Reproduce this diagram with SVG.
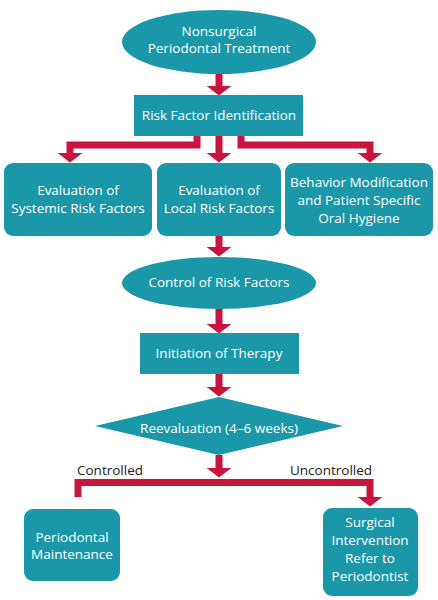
<svg xmlns="http://www.w3.org/2000/svg" width="438" height="600" viewBox="0 0 438 600">
<style>
.n{fill:#1a98a9}
.t{fill:#fff;font-family:"Open Sans","Liberation Sans",sans-serif;font-size:13.5px;text-anchor:middle}
.l{fill:#222;font-family:"Open Sans","Liberation Sans",sans-serif;font-size:13.5px;text-anchor:middle}
.c{fill:none;stroke:#c9143d;stroke-width:7;stroke-linejoin:miter;marker-end:url(#ah)}
</style>
<defs>
<marker id="ah" markerUnits="userSpaceOnUse" markerWidth="10" markerHeight="26" viewBox="0 0 10 26" refX="0.5" refY="13" orient="auto">
<path d="M0,0 L10,13 L0,26 z" fill="#c9143d"/>
</marker>
</defs>
<rect width="438" height="600" fill="#fff"/>
<g id="connectors">
<path class="c" d="M219,73 V86"/>
<path class="c" d="M197,136 V145 H70 V153"/>
<path class="c" d="M219,136 V153"/>
<path class="c" d="M241,136 V145 H370 V153"/>
<path class="c" d="M219,236 V247"/>
<path class="c" d="M219,309 V324"/>
<path class="c" d="M219,374 V387"/>
<path class="c" d="M219,455 V468"/>
<path class="c" d="M78,497 V482.5 H370 V497"/>
</g>
<g id="start"><ellipse class="n" cx="219" cy="42" rx="97" ry="32"/><text class="t" x="219" y="36">Nonsurgical</text><text class="t" x="219" y="53">Periodontal Treatment</text></g>
<g id="risk-id"><rect class="n" x="134" y="95" width="169" height="41"/><text class="t" x="219" y="120">Risk Factor Identification</text></g>
<g id="systemic"><rect class="n" x="4" y="163" width="148" height="73" rx="9"/><text class="t" x="78" y="195">Evaluation of</text><text class="t" x="78" y="213">Systemic Risk Factors</text></g>
<g id="local"><rect class="n" x="157" y="163" width="124" height="73" rx="9"/><text class="t" x="219" y="195">Evaluation of</text><text class="t" x="219" y="213">Local Risk Factors</text></g>
<g id="behavior"><rect class="n" x="285" y="163" width="148" height="73" rx="9"/><text class="t" x="359" y="187">Behavior Modification</text><text class="t" x="359" y="205">and Patient Specific</text><text class="t" x="359" y="223">Oral Hygiene</text></g>
<g id="control"><ellipse class="n" cx="219" cy="283" rx="97" ry="26"/><text class="t" x="219" y="287">Control of Risk Factors</text></g>
<g id="initiation"><rect class="n" x="140" y="333" width="159" height="41"/><text class="t" x="219" y="358">Initiation of Therapy</text></g>
<g id="reevaluation"><polygon class="n" points="95,426 219,397 343,426 219,455"/><text class="t" x="219" y="433">Reevaluation (4–6 weeks)</text></g>
<text class="l" x="110" y="475">Controlled</text>
<text class="l" x="331" y="475">Uncontrolled</text>
<g id="maintenance"><rect class="n" x="24" y="509" width="96" height="72" rx="9"/><text class="t" x="72" y="542">Periodontal</text><text class="t" x="72" y="559">Maintenance</text></g>
<g id="surgical"><rect class="n" x="323" y="508" width="95" height="88" rx="9"/><text class="t" x="370" y="527">Surgical</text><text class="t" x="370" y="545">Intervention</text><text class="t" x="370" y="563">Refer to</text><text class="t" x="370" y="581">Periodontist</text></g>
</svg>
